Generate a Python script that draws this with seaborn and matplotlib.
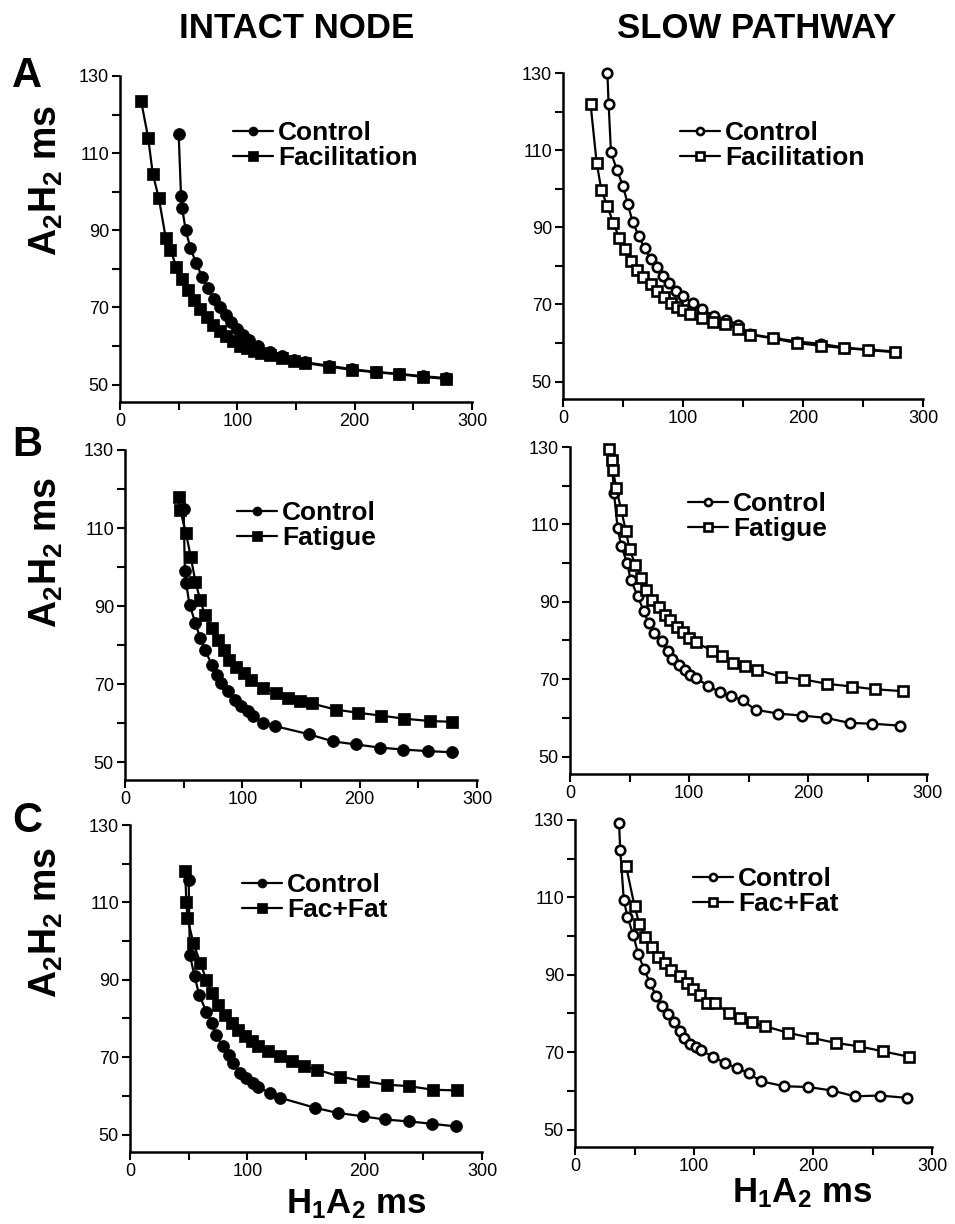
import numpy as np
import pandas as pd
import seaborn as sns
import matplotlib.pyplot as plt
from matplotlib.ticker import MultipleLocator

# ---- data (H1A2 ms vs A2H2 ms) ----
# A, intact node
a_ctrl_x = [50, 52, 53, 56, 60, 65, 70, 75, 80, 85, 90, 95, 100, 105, 110, 118, 128, 138, 148, 158, 178, 198, 218, 238, 258, 278]
a_ctrl_y = [115, 99, 95.7, 90, 85.4, 81.4, 78, 75, 72.3, 70, 68, 66.2, 64.5, 62.8, 61.5, 60, 58.5, 57.4, 56.4, 55.8, 54.9, 54, 53.3, 52.8, 52.2, 51.7]
a_fac_x = [18, 24, 28, 33, 39, 43, 48, 53, 58, 63, 68, 74, 79, 85, 90, 96, 102, 108, 114, 120, 128, 138, 148, 158, 178, 198, 218, 238, 258, 278]
a_fac_y = [123.5, 114, 104.5, 98.5, 88, 85, 80.5, 77.5, 74.5, 72, 69.5, 67.5, 65.5, 64, 62.5, 61.2, 60, 59.5, 58.8, 58.3, 57.6, 57, 56, 55.6, 54.7, 53.8, 53.2, 52.7, 52, 51.5]

# A, slow pathway
a_sp_ctrl_x = [37, 38, 40, 45, 50, 54, 58, 63, 68, 73, 78, 83, 88, 94, 100, 108, 116, 126, 136, 146, 156, 176, 195, 215, 235, 255, 277]
a_sp_ctrl_y = [129.9, 122, 109.4, 104.8, 100.7, 96, 91.5, 87.8, 84.6, 81.8, 79.7, 77.4, 75.6, 73.6, 72.1, 70.5, 68.7, 67.1, 66.1, 64.7, 62.3, 61.3, 60.4, 59.8, 58.8, 58.3, 57.8]
a_sp_fac_x = [23, 28, 32, 37, 42, 47, 52, 57, 62, 67, 73, 78, 84, 90, 95, 100, 106, 116, 125, 135, 146, 156, 175, 195, 215, 234, 254, 277]
a_sp_fac_y = [121.9, 106.8, 99.6, 95.5, 91, 87.2, 84.3, 81.3, 79, 77, 75.2, 73.5, 72, 70.5, 69.4, 68.6, 67.6, 66.6, 65.5, 64.9, 63.7, 62.2, 61.2, 60.0, 59.3, 58.7, 58.2, 57.6]

# B, intact node
b_ctrl_x = [50, 51, 52, 55, 60, 64, 68, 74, 78, 82, 88, 94, 99, 105, 109, 118, 128, 157, 177, 197, 217, 237, 258, 279]
b_ctrl_y = [115, 99, 96, 90.4, 85.7, 81.9, 78.9, 75, 72.5, 70.4, 68.2, 66.1, 64.4, 63.1, 62, 60.1, 59.3, 57.2, 55.4, 54.6, 53.8, 53.3, 52.9, 52.6]
b_fat_x = [46, 47, 52, 56, 60, 64, 68, 74, 79, 84, 89, 95, 101, 107, 118, 129, 139, 149, 159, 180, 199, 218, 238, 260, 279]
b_fat_y = [118, 114.7, 108.7, 102.7, 96.3, 91.7, 87.8, 84.4, 81.4, 78.9, 76.3, 74.5, 72.9, 71.2, 69.1, 67.8, 66.5, 65.7, 65.1, 63.5, 62.7, 62, 61.2, 60.6, 60.4]

# B, slow pathway
b_sp_ctrl_x = [35, 37, 40, 43, 48, 51, 57, 62, 66, 71, 77, 82, 86, 92, 97, 101, 106, 116, 126, 135, 145, 156, 175, 195, 215, 235, 254, 277]
b_sp_ctrl_y = [127, 118, 109, 104.5, 100, 95.7, 91.4, 87.5, 84.5, 81.9, 79.8, 77.2, 75.2, 73.7, 72.5, 71.2, 70.3, 68.3, 66.6, 65.7, 64.5, 62.1, 61.1, 60.6, 60, 58.7, 58.5, 58]
b_sp_fat_x = [33, 35, 36, 39, 43, 47, 50, 55, 60, 64, 69, 75, 80, 84, 90, 95, 100, 106, 119, 128, 137, 147, 157, 177, 197, 216, 237, 256, 280]
b_sp_fat_y = [129.4, 126.6, 124.1, 119.3, 113.7, 108.3, 103.6, 99.5, 96.1, 93.1, 90.5, 88.6, 86.6, 85.4, 83.6, 82.1, 80.6, 79.5, 77.4, 76.1, 74.3, 73.3, 72.5, 70.6, 69.9, 68.8, 68.1, 67.4, 66.9]

# C, intact node
c_ctrl_x = [50, 51, 55, 59, 65, 70, 73, 79, 84, 88, 94, 99, 105, 109, 119, 128, 158, 177, 199, 217, 238, 257, 278]
c_ctrl_y = [115.8, 96.5, 90.9, 86.1, 81.8, 78.8, 75.8, 72.8, 70.6, 68.5, 65.9, 64.6, 63.3, 62.3, 60.8, 59.5, 56.9, 55.6, 54.7, 53.9, 53.4, 52.8, 52.1]
c_ff_x = [47, 48, 49, 54, 60, 65, 70, 75, 81, 87, 92, 98, 104, 109, 118, 128, 138, 148, 159, 179, 199, 219, 238, 258, 279]
c_ff_y = [118, 110.2, 105.9, 99.5, 94.3, 90, 86.6, 83.5, 81, 78.8, 77.1, 75.4, 74.1, 72.8, 71.5, 70.2, 68.9, 67.6, 66.8, 65.0, 63.8, 62.9, 62.5, 61.6, 61.4]

# C, slow pathway
c_sp_ctrl_x = [37, 38, 41, 44, 49, 53, 58, 63, 68, 73, 78, 83, 88, 92, 97, 102, 106, 116, 126, 136, 146, 156, 176, 196, 216, 235, 256, 279]
c_sp_ctrl_y = [129.3, 122.3, 109.4, 105, 100.3, 95.4, 91.5, 87.9, 84.6, 82, 79.9, 77.7, 75.6, 73.7, 72.2, 71.3, 70.5, 68.8, 67.2, 65.9, 64.6, 62.5, 61.2, 61, 60.1, 58.6, 58.8, 58.2]
c_sp_ff_x = [43, 50, 54, 59, 65, 70, 76, 81, 88, 94, 99, 105, 111, 118, 129, 139, 149, 160, 179, 199, 219, 239, 259, 281]
c_sp_ff_y = [118, 107.8, 103.2, 99.7, 97.3, 94.7, 93, 91.3, 89.6, 87.9, 86.3, 84.8, 82.8, 82.7, 80.1, 78.8, 77.7, 76.7, 75, 73.7, 72.4, 71.5, 70.2, 68.8]

col_titles = ["INTACT NODE", "SLOW PATHWAY"]
row_letters = ["A", "B", "C"]
treat_labels = ["Facilitation", "Fatigue", "Fac+Fat"]
y_ticks = [50, 70, 90, 110, 130]
x_ticks = [0, 100, 200, 300]

panels = [
    [(a_ctrl_x, a_ctrl_y, a_fac_x, a_fac_y), (a_sp_ctrl_x, a_sp_ctrl_y, a_sp_fac_x, a_sp_fac_y)],
    [(b_ctrl_x, b_ctrl_y, b_fat_x, b_fat_y), (b_sp_ctrl_x, b_sp_ctrl_y, b_sp_fat_x, b_sp_fat_y)],
    [(c_ctrl_x, c_ctrl_y, c_ff_x, c_ff_y), (c_sp_ctrl_x, c_sp_ctrl_y, c_sp_ff_x, c_sp_ff_y)],
]

# ---- layout (pixel positions measured on the reference) ----
W, H = 955, 1224
sns.set_style("ticks")
plt.rcParams["font.family"] = ["Liberation Sans", "DejaVu Sans"]
plt.rcParams["text.color"] = "black"
plt.rcParams["axes.labelcolor"] = "black"
plt.rcParams["xtick.color"] = "black"
plt.rcParams["ytick.color"] = "black"
plt.rcParams["mathtext.fontset"] = "custom"
plt.rcParams["mathtext.rm"] = "Liberation Sans:bold"
plt.rcParams["mathtext.bf"] = "Liberation Sans:bold"
plt.rcParams["mathtext.it"] = "Liberation Sans:bold"

# (left px, right px, top px, bottom px) for each axes
boxes = [
    [(120, 472, 76, 402), (563, 923, 73, 399)],
    [(125, 477, 450, 780), (570, 927, 447, 774)],
    [(130, 482, 825, 1152), (575, 932, 820, 1147)],
]
# legend (line start x, first row centre y)
leg_pos = [
    [(233, 137), (680, 137)],
    [(237, 517), (688, 508)],
    [(242, 889), (693, 883)],
]

fig = plt.figure(figsize=(W / 100, H / 100), dpi=100)

for r in range(3):
    for c in range(2):
        l, rt, t, b = boxes[r][c]
        ax = fig.add_axes([l / W, 1 - b / H, (rt - l) / W, (b - t) / H])
        cx, cy, tx, ty = panels[r][c]
        open_m = c == 1
        face = "white" if open_m else "black"
        df_c = pd.DataFrame({"x": cx, "y": cy})
        df_t = pd.DataFrame({"x": tx, "y": ty})
        sns.lineplot(data=df_c, x="x", y="y", ax=ax, estimator=None, color="black",
                     lw=1.6, marker="o", markersize=6.8 if open_m else 8.6,
                     markerfacecolor=face, markeredgecolor="black",
                     markeredgewidth=1.9 if open_m else 0.5,
                     label="Control", clip_on=False, zorder=3)
        sns.lineplot(data=df_t, x="x", y="y", ax=ax, estimator=None, color="black",
                     lw=1.6, marker="s", markersize=7.5 if open_m else 9.2,
                     markerfacecolor=face, markeredgecolor="black",
                     markeredgewidth=1.9 if open_m else 0.5,
                     label=treat_labels[r], clip_on=False, zorder=3)
        ax.set_xlim(0, 300)
        ax.set_ylim(45.5, 130)
        ax.set_xticks(x_ticks)
        ax.set_yticks(y_ticks)
        ax.xaxis.set_minor_locator(MultipleLocator(50))
        ax.yaxis.set_minor_locator(MultipleLocator(10))
        ax.tick_params(which="both", direction="out", length=6, width=1.5,
                       labelsize=13, pad=2, color="black", labelcolor="black")
        ax.set_xlabel("")
        ax.set_ylabel("")
        for s in ["left", "bottom"]:
            ax.spines[s].set_linewidth(1.8)
            ax.spines[s].set_color("black")
        sns.despine(ax=ax)
        ax.set_facecolor("white")

        lx, ly = leg_pos[r][c]
        ax.legend(loc="upper left", bbox_to_anchor=(lx / W, 1 - (ly - 16) / H),
                  bbox_transform=fig.transFigure, frameon=False,
                  prop={"weight": "bold", "size": 19}, handlelength=1.5,
                  handletextpad=0.2, borderpad=0, borderaxespad=0,
                  labelspacing=0.05, markerscale=0.75)

# column titles
fig.text(297 / W, 1 - 38 / H, col_titles[0], ha="center", va="baseline",
         fontsize=25, fontweight="bold")
fig.text(757 / W, 1 - 38 / H, col_titles[1], ha="center", va="baseline",
         fontsize=25, fontweight="bold")

# row letters
for letter, yb in zip(row_letters, [87, 456, 832]):
    fig.text(12 / W, 1 - yb / H, letter, ha="left", va="baseline",
             fontsize=30, fontweight="bold")

# y labels
for yc in [180, 552, 922]:
    fig.text(46 / W, 1 - yc / H, r"$\mathbf{A_2H_2}$ ms", rotation=90,
             ha="center", va="center", fontsize=27, fontweight="bold")

# x labels
fig.text(356 / W, 1 - 1213 / H, r"$\mathbf{H_1A_2}$ ms", ha="center",
         va="baseline", fontsize=25, fontweight="bold")
fig.text(802 / W, 1 - 1202 / H, r"$\mathbf{H_1A_2}$ ms", ha="center",
         va="baseline", fontsize=25, fontweight="bold")

fig.savefig("out.png", dpi=100, facecolor="white")
